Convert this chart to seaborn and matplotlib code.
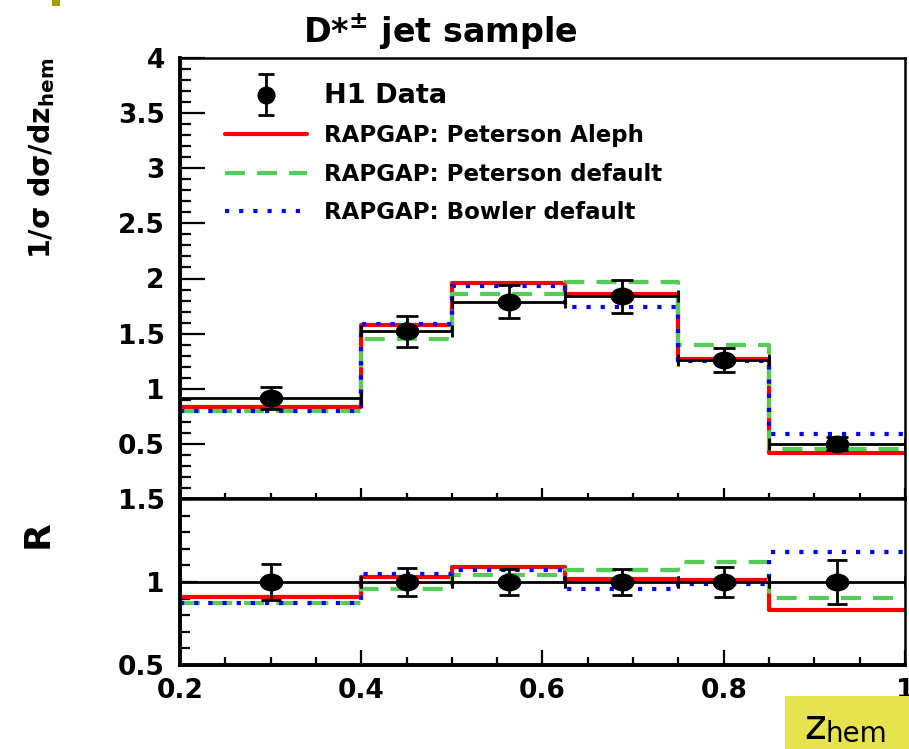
import numpy as np
import pandas as pd
import matplotlib
matplotlib.use("Agg")
import matplotlib.pyplot as plt
import seaborn as sns
from matplotlib.lines import Line2D
from matplotlib.path import Path
from matplotlib.transforms import Affine2D
from matplotlib.ticker import MultipleLocator, FixedLocator, FuncFormatter
from matplotlib.legend_handler import HandlerErrorbar
from matplotlib.patches import Rectangle

# z_hem binning
bin_edges = [0.2, 0.4, 0.5, 0.625, 0.75, 0.85, 1.0]

# normalised differential cross section 1/sigma dsigma/dz_hem
h1_data = [0.92, 1.52, 1.79, 1.84, 1.26, 0.50]
h1_err = [0.10, 0.14, 0.15, 0.15, 0.11, 0.06]
peterson_aleph = [0.83, 1.58, 1.96, 1.86, 1.27, 0.42]
peterson_default = [0.80, 1.45, 1.86, 1.97, 1.40, 0.45]
bowler_default = [0.80, 1.59, 1.93, 1.74, 1.25, 0.59]

# ratio R = MC / data
ratio_data = [1.0, 1.0, 1.0, 1.0, 1.0, 1.0]
ratio_err = [0.11, 0.085, 0.08, 0.08, 0.09, 0.13]
ratio_aleph = [0.91, 1.03, 1.09, 1.02, 1.01, 0.83]
ratio_default = [0.875, 0.96, 1.045, 1.075, 1.12, 0.905]
ratio_bowler = [0.875, 1.05, 1.075, 0.955, 0.99, 1.18]

model_labels = ["RAPGAP: Peterson Aleph", "RAPGAP: Peterson default",
                "RAPGAP: Bowler default"]
data_label = "H1 Data"
x_ticks = [0.2, 0.4, 0.6, 0.8, 1.0]
top_y_ticks = [0.5, 1.0, 1.5, 2.0, 2.5, 3.0, 3.5, 4.0]
ratio_y_ticks = [0.5, 1.0, 1.5]

colors = {model_labels[0]: "#ff0000", model_labels[1]: "#55cc55",
          model_labels[2]: "#0000ff"}
dash_map = {model_labels[0]: "", model_labels[1]: (4.8, 2.9),
            model_labels[2]: (1.0, 2.4)}
widths = {model_labels[0]: 3.0, model_labels[1]: 3.0, model_labels[2]: 3.0}

sns.set_theme(style="ticks")
plt.rcParams["font.family"] = ["DejaVu Sans"]
plt.rcParams["font.weight"] = "bold"
plt.rcParams["mathtext.default"] = "bf"
plt.rcParams["mathtext.fontset"] = "dejavusans"
for key in ("text.color", "axes.labelcolor", "xtick.color", "ytick.color",
            "axes.edgecolor"):
    plt.rcParams[key] = "black"

W, H = 909, 749
fig = plt.figure(figsize=(W / 100, H / 100), dpi=100)
fig.patch.set_facecolor("white")


def fx(px):
    return px / W


def fy(py):
    return 1 - py / H


ax1 = fig.add_axes([fx(180), fy(499), fx(905) - fx(180), fy(58) - fy(499)])
ax2 = fig.add_axes([fx(180), fy(665), fx(905) - fx(180), fy(499) - fy(665)])

centers = [(a + b) / 2 for a, b in zip(bin_edges[:-1], bin_edges[1:])]
half_w = [(b - a) / 2 for a, b in zip(bin_edges[:-1], bin_edges[1:])]

# elliptical filled marker for the data points
ellipse = Path(Affine2D().scale(1.0, 0.74).transform_path(Path.unit_circle()).vertices,
               Path.unit_circle().codes)


def step_frame(series):
    rows = []
    for name, vals in zip(model_labels, series):
        ys = list(vals) + [vals[-1]]
        for x, y in zip(bin_edges, ys):
            rows.append({"z": x, "v": y, "model": name})
    return pd.DataFrame(rows)


def draw_models(ax, series):
    df = step_frame(series)
    n0 = len(ax.get_lines())
    sns.lineplot(data=df, x="z", y="v", hue="model", style="model",
                 hue_order=model_labels, style_order=model_labels,
                 palette=colors, dashes=dash_map, drawstyle="steps-post",
                 estimator=None, errorbar=None, legend=False, ax=ax,
                 linewidth=3.0, zorder=2)
    for line, name in zip(ax.get_lines()[n0:], model_labels):
        line.set_linewidth(widths[name])
        line.set_dash_capstyle("butt")


def draw_data(ax, vals, errs, cap, ms):
    ax.errorbar(centers, vals, xerr=half_w, fmt="none", ecolor="black",
                elinewidth=2.0, capsize=4.5, capthick=2.0, zorder=4)
    ax.errorbar(centers, vals, yerr=errs, fmt="none", ecolor="black",
                elinewidth=2.0, capsize=cap, capthick=2.0, zorder=4)
    ax.plot(centers, vals, linestyle="none", marker=ellipse, ms=ms,
            color="black", zorder=5)


draw_models(ax1, [peterson_aleph, peterson_default, bowler_default])
draw_data(ax1, h1_data, h1_err, 8, 16)

draw_models(ax2, [ratio_aleph, ratio_default, ratio_bowler])
draw_data(ax2, ratio_data, ratio_err, 7.5, 16)

fmt = FuncFormatter(lambda v, p: f"{v:g}")

for ax in (ax1, ax2):
    ax.set_xlim(0.2, 1.0)
    ax.set_xlabel("")
    ax.set_ylabel("")
    ax.xaxis.set_major_locator(FixedLocator(x_ticks))
    ax.xaxis.set_minor_locator(MultipleLocator(0.05))
    ax.xaxis.set_major_formatter(fmt)
    ax.yaxis.set_major_formatter(fmt)
    ax.yaxis.set_minor_locator(MultipleLocator(0.1))
    ax.tick_params(which="both", direction="in", top=False, right=False,
                   color="black", labelcolor="black", labelsize=19, width=1.6)
    ax.tick_params(axis="y", pad=11)
    for side in ("left", "bottom"):
        ax.spines[side].set_linewidth(2.8)
    for side in ("top", "right"):
        ax.spines[side].set_linewidth(1.8)
    for s in ax.spines.values():
        s.set_color("black")
    ax.set_facecolor("white")

ax1.set_ylim(0, 4)
ax1.yaxis.set_major_locator(FixedLocator(top_y_ticks))
ax1.tick_params(axis="y", which="major", length=18)
ax1.tick_params(axis="y", which="minor", length=8)
ax1.tick_params(axis="x", which="major", length=8, labelbottom=False)
ax1.tick_params(axis="x", which="minor", length=4)

ax2.set_ylim(0.5, 1.5)
ax2.yaxis.set_major_locator(FixedLocator(ratio_y_ticks))
ax2.tick_params(axis="y", which="major", length=13)
ax2.tick_params(axis="y", which="minor", length=7)
ax2.tick_params(axis="x", which="major", length=11, pad=9)
ax2.tick_params(axis="x", which="minor", length=5.5)

# legend
legend_data = ax1.errorbar([0.0], [-5.0], yerr=[0.1], fmt="o", color="black",
                           ms=12, elinewidth=2.0, capsize=6, capthick=2.0)
handles = [legend_data]
for n in model_labels:
    h = Line2D([], [], color=colors[n], lw=widths[n], linestyle="-")
    if dash_map[n]:
        h.set_dashes(dash_map[n])
        h.set_dash_capstyle("butt")
    handles.append(h)
leg = ax1.legend(handles, [data_label] + model_labels, loc="upper left",
                 bbox_to_anchor=(0.062, 0.944), frameon=False, fontsize=16.5,
                 handlelength=3.6, handletextpad=0.72, labelspacing=0.68,
                 borderpad=0, borderaxespad=0, numpoints=1,
                 handler_map={legend_data: HandlerErrorbar(xerr_size=0, yerr_size=0.9)})
leg.get_texts()[0].set_fontsize(19.5)
for t in leg.get_texts():
    t.set_color("black")

# titles
fig.text(fx(440), fy(43), r"D*$^{\pm}$ jet sample", ha="center", va="baseline",
         fontsize=24, fontweight="bold")
fig.text(fx(42), fy(58), "1/σ dσ/dz$_{hem}$", rotation=90, ha="center", va="top",
         fontsize=20.5, fontweight="bold")
fig.text(fx(38), fy(534), "R", rotation=90, ha="center", va="center",
         fontsize=26, fontweight="bold")

# z_hem tag in the corner and the small marker at the top
fig.add_artist(Rectangle((fx(785), 0), fx(909) - fx(785), fy(696),
                         transform=fig.transFigure, color="#e6e34f", lw=0))
fig.add_artist(Rectangle((fx(52), fy(6)), fx(60) - fx(52), 1 - fy(6),
                         transform=fig.transFigure, color="#a39b00", lw=0))
fig.text(fx(804), fy(739), "z", ha="left", va="baseline", fontsize=30,
         fontweight="normal", color="black")
fig.text(fx(826), fy(742), "hem", ha="left", va="baseline", fontsize=20,
         fontweight="normal", color="black")

fig.savefig("out.png", dpi=100, facecolor="white")
